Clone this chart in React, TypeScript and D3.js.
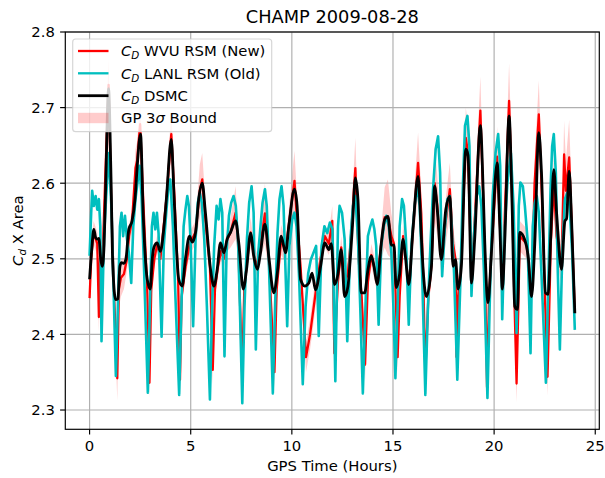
import React from "react";
import * as d3 from "d3";

const W = 605;
const H = 478;

const xTicks = [0, 5, 10, 15, 20, 25];
const yTicks = [2.3, 2.4, 2.5, 2.6, 2.7, 2.8];
const titleText = "CHAMP 2009-08-28";
const xLabelText = "GPS Time (Hours)";

// C_D DSMC (black)
const dsmcT = [0.00,0.10,0.21,0.30,0.38,0.46,0.55,0.63,0.72,0.80,0.94,1.05,1.15,1.29,1.40,1.50,1.58,1.70,1.80,1.94,2.10,2.25,2.35,2.52,2.65,2.85,3.00,3.10,3.18,3.34,3.50,3.67,3.80,4.04,4.18,4.41,4.58,4.74,4.94,5.08,5.24,5.40,5.57,5.73,5.98,6.15,6.31,6.47,6.64,6.80,6.97,7.22,7.38,7.60,7.76,7.96,8.12,8.30,8.45,8.67,8.86,9.11,9.28,9.47,9.69,9.85,10.13,10.26,10.43,10.64,10.84,11.00,11.17,11.42,11.63,11.83,11.95,12.11,12.28,12.44,12.61,12.77,12.90,13.00,13.14,13.27,13.43,13.60,13.76,13.93,14.06,14.22,14.42,14.59,14.75,14.92,15.05,15.16,15.33,15.50,15.61,15.78,15.99,16.24,16.40,16.49,16.65,16.90,17.06,17.19,17.39,17.61,17.81,17.97,18.09,18.22,18.38,18.60,18.71,18.88,19.04,19.32,19.46,19.54,19.70,19.87,20.15,20.28,20.41,20.53,20.74,20.89,21.02,21.15,21.27,21.44,21.60,21.68,21.85,22.01,22.21,22.34,22.54,22.67,22.80,22.95,23.09,23.33,23.50,23.58,23.71,23.83,23.99];
const dsmcV = [2.473,2.510,2.539,2.528,2.526,2.527,2.500,2.490,2.520,2.600,2.725,2.620,2.490,2.446,2.447,2.490,2.495,2.494,2.500,2.539,2.550,2.580,2.620,2.665,2.560,2.473,2.460,2.500,2.515,2.521,2.510,2.540,2.580,2.658,2.580,2.473,2.464,2.500,2.530,2.522,2.535,2.580,2.600,2.560,2.486,2.464,2.486,2.521,2.508,2.526,2.535,2.550,2.520,2.460,2.486,2.534,2.503,2.486,2.508,2.546,2.503,2.455,2.481,2.530,2.508,2.543,2.592,2.570,2.473,2.464,2.468,2.481,2.459,2.490,2.521,2.512,2.520,2.466,2.480,2.512,2.450,2.463,2.504,2.545,2.607,2.578,2.455,2.455,2.485,2.504,2.490,2.466,2.520,2.552,2.556,2.518,2.518,2.462,2.480,2.526,2.504,2.466,2.540,2.609,2.530,2.486,2.450,2.490,2.596,2.565,2.499,2.565,2.583,2.490,2.499,2.460,2.490,2.645,2.637,2.468,2.526,2.676,2.590,2.520,2.442,2.510,2.627,2.544,2.460,2.526,2.689,2.570,2.437,2.433,2.535,2.530,2.517,2.504,2.450,2.520,2.667,2.615,2.455,2.453,2.530,2.618,2.560,2.486,2.550,2.553,2.616,2.550,2.428];

// C_D WVU RSM (red) and GP 3-sigma half-width
const wvuT = [0.00,0.08,0.20,0.38,0.46,0.52,0.63,0.79,0.94,1.05,1.20,1.37,1.45,1.55,1.70,1.85,1.95,2.10,2.27,2.35,2.50,2.65,2.85,2.96,3.05,3.20,3.35,3.50,3.65,3.80,4.04,4.20,4.38,4.47,4.55,4.75,4.95,5.24,5.45,5.57,5.73,5.95,6.09,6.20,6.35,6.50,6.64,6.80,6.97,7.22,7.35,7.54,7.65,7.80,7.96,8.12,8.30,8.45,8.67,8.86,9.14,9.25,9.47,9.69,9.85,10.13,10.26,10.43,10.70,10.90,11.10,11.25,11.42,11.63,11.83,12.00,12.10,12.28,12.44,12.61,12.77,12.90,13.14,13.30,13.45,13.62,13.76,13.93,14.06,14.22,14.42,14.59,14.75,14.92,15.05,15.23,15.33,15.50,15.61,15.78,15.99,16.24,16.40,16.50,16.60,16.75,16.90,17.06,17.19,17.39,17.61,17.81,17.97,18.09,18.14,18.22,18.38,18.60,18.71,18.88,19.04,19.32,19.46,19.54,19.65,19.75,19.87,20.15,20.28,20.41,20.53,20.74,20.89,21.00,21.11,21.20,21.27,21.44,21.60,21.68,21.85,22.00,22.21,22.34,22.50,22.64,22.75,22.80,22.95,23.09,23.33,23.46,23.55,23.71,23.83,23.99];
const wvuV = [2.448,2.500,2.535,2.520,2.423,2.500,2.490,2.620,2.730,2.600,2.460,2.342,2.460,2.475,2.480,2.500,2.530,2.550,2.620,2.630,2.678,2.580,2.460,2.336,2.460,2.500,2.520,2.500,2.540,2.580,2.665,2.580,2.470,2.340,2.450,2.490,2.520,2.535,2.590,2.605,2.550,2.490,2.353,2.460,2.490,2.510,2.500,2.525,2.535,2.561,2.520,2.350,2.460,2.500,2.535,2.505,2.490,2.520,2.560,2.500,2.350,2.460,2.525,2.510,2.545,2.603,2.550,2.490,2.370,2.400,2.440,2.470,2.500,2.530,2.520,2.550,2.375,2.470,2.515,2.470,2.480,2.520,2.620,2.500,2.450,2.360,2.470,2.505,2.490,2.470,2.520,2.555,2.555,2.530,2.520,2.370,2.450,2.530,2.510,2.460,2.540,2.627,2.560,2.470,2.350,2.450,2.490,2.600,2.570,2.500,2.550,2.592,2.520,2.500,2.370,2.450,2.500,2.660,2.640,2.470,2.550,2.696,2.580,2.500,2.330,2.450,2.510,2.635,2.550,2.460,2.560,2.709,2.580,2.450,2.335,2.440,2.530,2.525,2.520,2.500,2.450,2.600,2.691,2.600,2.460,2.344,2.460,2.520,2.600,2.530,2.490,2.638,2.590,2.634,2.550,2.430];
const gpSigma = [0.020,0.015,0.015,0.015,0.020,0.015,0.015,0.030,0.035,0.030,0.020,0.030,0.025,0.025,0.020,0.015,0.015,0.015,0.025,0.025,0.030,0.025,0.020,0.020,0.015,0.012,0.012,0.012,0.015,0.020,0.030,0.025,0.020,0.020,0.015,0.012,0.015,0.015,0.035,0.035,0.025,0.015,0.020,0.015,0.012,0.012,0.012,0.015,0.020,0.035,0.020,0.020,0.015,0.015,0.020,0.015,0.015,0.020,0.040,0.020,0.020,0.015,0.020,0.015,0.020,0.040,0.030,0.020,0.020,0.020,0.020,0.015,0.015,0.015,0.015,0.020,0.020,0.015,0.015,0.015,0.015,0.020,0.040,0.030,0.020,0.020,0.015,0.015,0.015,0.015,0.020,0.040,0.050,0.030,0.020,0.020,0.015,0.015,0.015,0.015,0.025,0.040,0.030,0.020,0.020,0.015,0.020,0.050,0.040,0.020,0.030,0.035,0.020,0.020,0.020,0.015,0.020,0.040,0.035,0.020,0.030,0.045,0.030,0.020,0.020,0.015,0.020,0.040,0.030,0.020,0.030,0.050,0.040,0.030,0.025,0.020,0.020,0.020,0.020,0.020,0.020,0.030,0.045,0.030,0.020,0.025,0.020,0.025,0.035,0.030,0.025,0.045,0.040,0.050,0.040,0.030];

// C_D LANL RSM (cyan)
const lanlT = [0.00,0.08,0.13,0.21,0.30,0.38,0.46,0.53,0.59,0.71,0.82,0.96,1.09,1.20,1.30,1.40,1.50,1.58,1.66,1.75,1.85,1.94,2.06,2.16,2.27,2.37,2.47,2.57,2.70,2.88,2.98,3.08,3.16,3.25,3.33,3.41,3.56,3.67,3.79,3.89,3.99,4.12,4.25,4.43,4.55,4.65,4.74,4.83,4.91,4.99,5.12,5.24,5.35,5.45,5.55,5.67,5.80,5.95,6.06,6.16,6.28,6.38,6.47,6.56,6.67,6.77,6.89,7.00,7.12,7.23,7.35,7.43,7.55,7.66,7.78,7.89,8.01,8.11,8.22,8.34,8.45,8.55,8.67,8.76,8.88,9.06,9.18,9.29,9.39,9.49,9.59,9.77,9.88,10.02,10.13,10.23,10.35,10.54,10.68,10.81,10.94,11.07,11.20,11.33,11.47,11.61,11.75,11.88,12.01,12.15,12.28,12.36,12.48,12.61,12.74,12.90,13.02,13.14,13.27,13.38,13.51,13.65,13.76,13.88,13.98,14.08,14.17,14.29,14.42,14.55,14.67,14.79,14.92,15.02,15.12,15.23,15.33,15.45,15.54,15.64,15.78,15.91,16.07,16.20,16.32,16.44,16.60,16.73,16.85,16.98,17.11,17.23,17.33,17.43,17.56,17.69,17.81,17.90,18.02,18.18,18.32,18.45,18.56,18.68,18.78,18.88,19.01,19.14,19.26,19.37,19.50,19.67,19.80,19.93,20.07,20.20,20.30,20.40,20.53,20.66,20.83,20.96,21.11,21.22,21.30,21.42,21.52,21.65,21.80,21.91,22.01,22.11,22.21,22.34,22.56,22.69,22.79,22.87,22.95,23.05,23.15,23.25,23.38,23.50,23.61,23.73,23.86,23.99];
const lanlV = [2.504,2.561,2.590,2.570,2.583,2.565,2.579,2.543,2.391,2.526,2.583,2.640,2.561,2.446,2.345,2.437,2.543,2.561,2.530,2.557,2.526,2.508,2.468,2.543,2.579,2.601,2.623,2.583,2.481,2.323,2.437,2.543,2.561,2.539,2.561,2.534,2.397,2.517,2.561,2.592,2.605,2.543,2.446,2.320,2.446,2.543,2.565,2.583,2.570,2.526,2.411,2.526,2.574,2.587,2.574,2.526,2.437,2.314,2.437,2.517,2.570,2.552,2.579,2.561,2.371,2.508,2.557,2.574,2.583,2.570,2.517,2.437,2.309,2.437,2.526,2.574,2.596,2.561,2.380,2.508,2.543,2.574,2.592,2.570,2.481,2.322,2.446,2.534,2.579,2.596,2.570,2.411,2.517,2.552,2.561,2.543,2.481,2.334,2.437,2.481,2.499,2.508,2.517,2.398,2.517,2.543,2.534,2.548,2.539,2.338,2.543,2.570,2.561,2.526,2.391,2.526,2.570,2.583,2.526,2.437,2.322,2.446,2.530,2.543,2.552,2.539,2.517,2.413,2.517,2.543,2.557,2.543,2.508,2.437,2.342,2.437,2.543,2.579,2.570,2.526,2.413,2.517,2.570,2.596,2.570,2.481,2.320,2.437,2.517,2.592,2.645,2.662,2.614,2.477,2.539,2.579,2.583,2.543,2.481,2.340,2.459,2.592,2.676,2.689,2.649,2.451,2.534,2.583,2.596,2.570,2.481,2.316,2.459,2.583,2.640,2.665,2.623,2.420,2.543,2.601,2.640,2.570,2.402,2.570,2.601,2.596,2.570,2.526,2.375,2.543,2.574,2.583,2.561,2.481,2.336,2.481,2.592,2.649,2.665,2.614,2.481,2.380,2.517,2.579,2.587,2.570,2.508,2.406];

const FONT = "DejaVu Sans, Verdana, sans-serif";
const FS = 14.8;

const M = { left: 65.3, right: 599.3, top: 32, bottom: 429.3 };

export default function App() {
  const x = d3.scaleLinear().domain([-1.2, 25.2]).range([M.left, M.right]);
  const y = d3.scaleLinear().domain([2.2745, 2.8]).range([M.bottom, M.top]);

  const mk = (T: number[], V: number[], curve: d3.CurveFactory) =>
    d3.line<number>().x((_, i) => x(T[i])).y((v) => y(v)).curve(curve)(V) || "";

  const band =
    d3
      .area<number>()
      .x((_, i) => x(wvuT[i]))
      .y0((v, i) => y(v - gpSigma[i]))
      .y1((v, i) => y(v + gpSigma[i]))
      .curve(d3.curveLinear)(wvuV) || "";

  const redPath = mk(wvuT, wvuV, d3.curveLinear);
  const cyanPath = mk(lanlT, lanlV, d3.curveLinear);
  const blackPath = mk(dsmcT, dsmcV, d3.curveMonotoneX);

  const red = "#ff0000";
  const cyan = "#00bfbf";
  const grid = "#b0b0b0";

  const legendX = 72.7;
  const legendY = 39;
  const legendW = 199;
  const legendH = 92.7;
  const rowY = [51, 73.3, 95.7, 118];
  const hx0 = 78;
  const hx1 = 108.5;
  const tx = 121;

  const cdLabel = (rest: string, yy: number) => (
    <text x={tx} y={yy + 5.3} fontSize={FS} fontFamily={FONT} fill="#000" style={{ whiteSpace: "pre" }}>
      <tspan fontStyle="italic">C</tspan>
      <tspan fontStyle="italic" fontSize={FS * 0.7} dy={3}>D</tspan>
      <tspan dy={-3}>{rest}</tspan>
    </text>
  );

  return (
    <svg
      width={W}
      height={H}
      viewBox={`0 0 ${W} ${H}`}
      style={{ position: "absolute", left: 0, top: 0, background: "#fff" }}
    >
      <rect x={0} y={0} width={W} height={H} fill="#fff" />
      <defs>
        <clipPath id="plotclip">
          <rect x={M.left} y={M.top} width={M.right - M.left} height={M.bottom - M.top} />
        </clipPath>
      </defs>

      {/* band */}
      <g clipPath="url(#plotclip)">
        <path d={band} fill={red} fillOpacity={0.2} stroke="none" />
      </g>

      {/* grid */}
      <g>
        {xTicks.map((t) => (
          <line key={"gx" + t} x1={x(t)} x2={x(t)} y1={M.top} y2={M.bottom} stroke={grid} strokeWidth={1.18} />
        ))}
        {yTicks.map((t) => (
          <line key={"gy" + t} x1={M.left} x2={M.right} y1={y(t)} y2={y(t)} stroke={grid} strokeWidth={1.18} />
        ))}
      </g>

      {/* lines */}
      <g clipPath="url(#plotclip)" fill="none" strokeLinejoin="round" strokeLinecap="butt">
        <path d={redPath} stroke={red} strokeWidth={2.3} />
        <path d={cyanPath} stroke={cyan} strokeWidth={2.6} />
        <path d={blackPath} stroke="#000" strokeWidth={2.8} />
      </g>

      {/* spines */}
      <rect
        x={M.left}
        y={M.top}
        width={M.right - M.left}
        height={M.bottom - M.top}
        fill="none"
        stroke="#000"
        strokeWidth={1.18}
      />

      {/* x ticks */}
      {xTicks.map((t) => (
        <g key={"xt" + t}>
          <line x1={x(t)} x2={x(t)} y1={M.bottom} y2={M.bottom + 5.2} stroke="#000" strokeWidth={1.18} />
          <text x={x(t)} y={M.bottom + 21.2} textAnchor="middle" fontSize={FS} fontFamily={FONT} fill="#000">
            {String(t)}
          </text>
        </g>
      ))}
      {/* y ticks */}
      {yTicks.map((t) => (
        <g key={"yt" + t}>
          <line x1={M.left - 5.2} x2={M.left} y1={y(t)} y2={y(t)} stroke="#000" strokeWidth={1.18} />
          <text x={M.left - 10.4} y={y(t) + 5.3} textAnchor="end" fontSize={FS} fontFamily={FONT} fill="#000">
            {t.toFixed(1)}
          </text>
        </g>
      ))}

      {/* title */}
      <text x={(M.left + M.right) / 2} y={23} textAnchor="middle" fontSize={17.8} fontFamily={FONT} fill="#000">
        {titleText}
      </text>

      {/* x label */}
      <text x={(M.left + M.right) / 2} y={471} textAnchor="middle" fontSize={FS} fontFamily={FONT} fill="#000">
        {xLabelText}
      </text>

      {/* y label */}
      <text
        transform={`translate(23,${(M.top + M.bottom) / 2}) rotate(-90)`}
        textAnchor="middle"
        fontSize={FS}
        fontFamily={FONT}
        fill="#000"
        style={{ whiteSpace: "pre" }}
      >
        <tspan fontStyle="italic">C</tspan>
        <tspan fontStyle="italic" fontSize={FS * 0.7} dy={3}>d</tspan>
        <tspan dy={-3}>{" X Area"}</tspan>
      </text>

      {/* legend */}
      <g>
        <rect
          x={legendX}
          y={legendY}
          width={legendW}
          height={legendH}
          rx={3}
          ry={3}
          fill="#fff"
          fillOpacity={0.8}
          stroke="#cccccc"
          strokeOpacity={0.8}
          strokeWidth={1.18}
        />
        <line x1={hx0} x2={hx1} y1={rowY[0]} y2={rowY[0]} stroke={red} strokeWidth={2.3} />
        {cdLabel(" WVU RSM (New)", rowY[0])}
        <line x1={hx0} x2={hx1} y1={rowY[1]} y2={rowY[1]} stroke={cyan} strokeWidth={2.3} />
        {cdLabel(" LANL RSM (Old)", rowY[1])}
        <line x1={hx0} x2={hx1} y1={rowY[2]} y2={rowY[2]} stroke="#000" strokeWidth={2.8} />
        {cdLabel(" DSMC", rowY[2])}
        <rect x={hx0} y={rowY[3] - 5.2} width={hx1 - hx0} height={10.4} fill={red} fillOpacity={0.2} />
        <text x={tx} y={rowY[3] + 5.3} fontSize={FS} fontFamily={FONT} fill="#000" style={{ whiteSpace: "pre" }}>
          <tspan>{"GP 3"}</tspan>
          <tspan fontStyle="italic">σ</tspan>
          <tspan>{" Bound"}</tspan>
        </text>
      </g>
    </svg>
  );
}
